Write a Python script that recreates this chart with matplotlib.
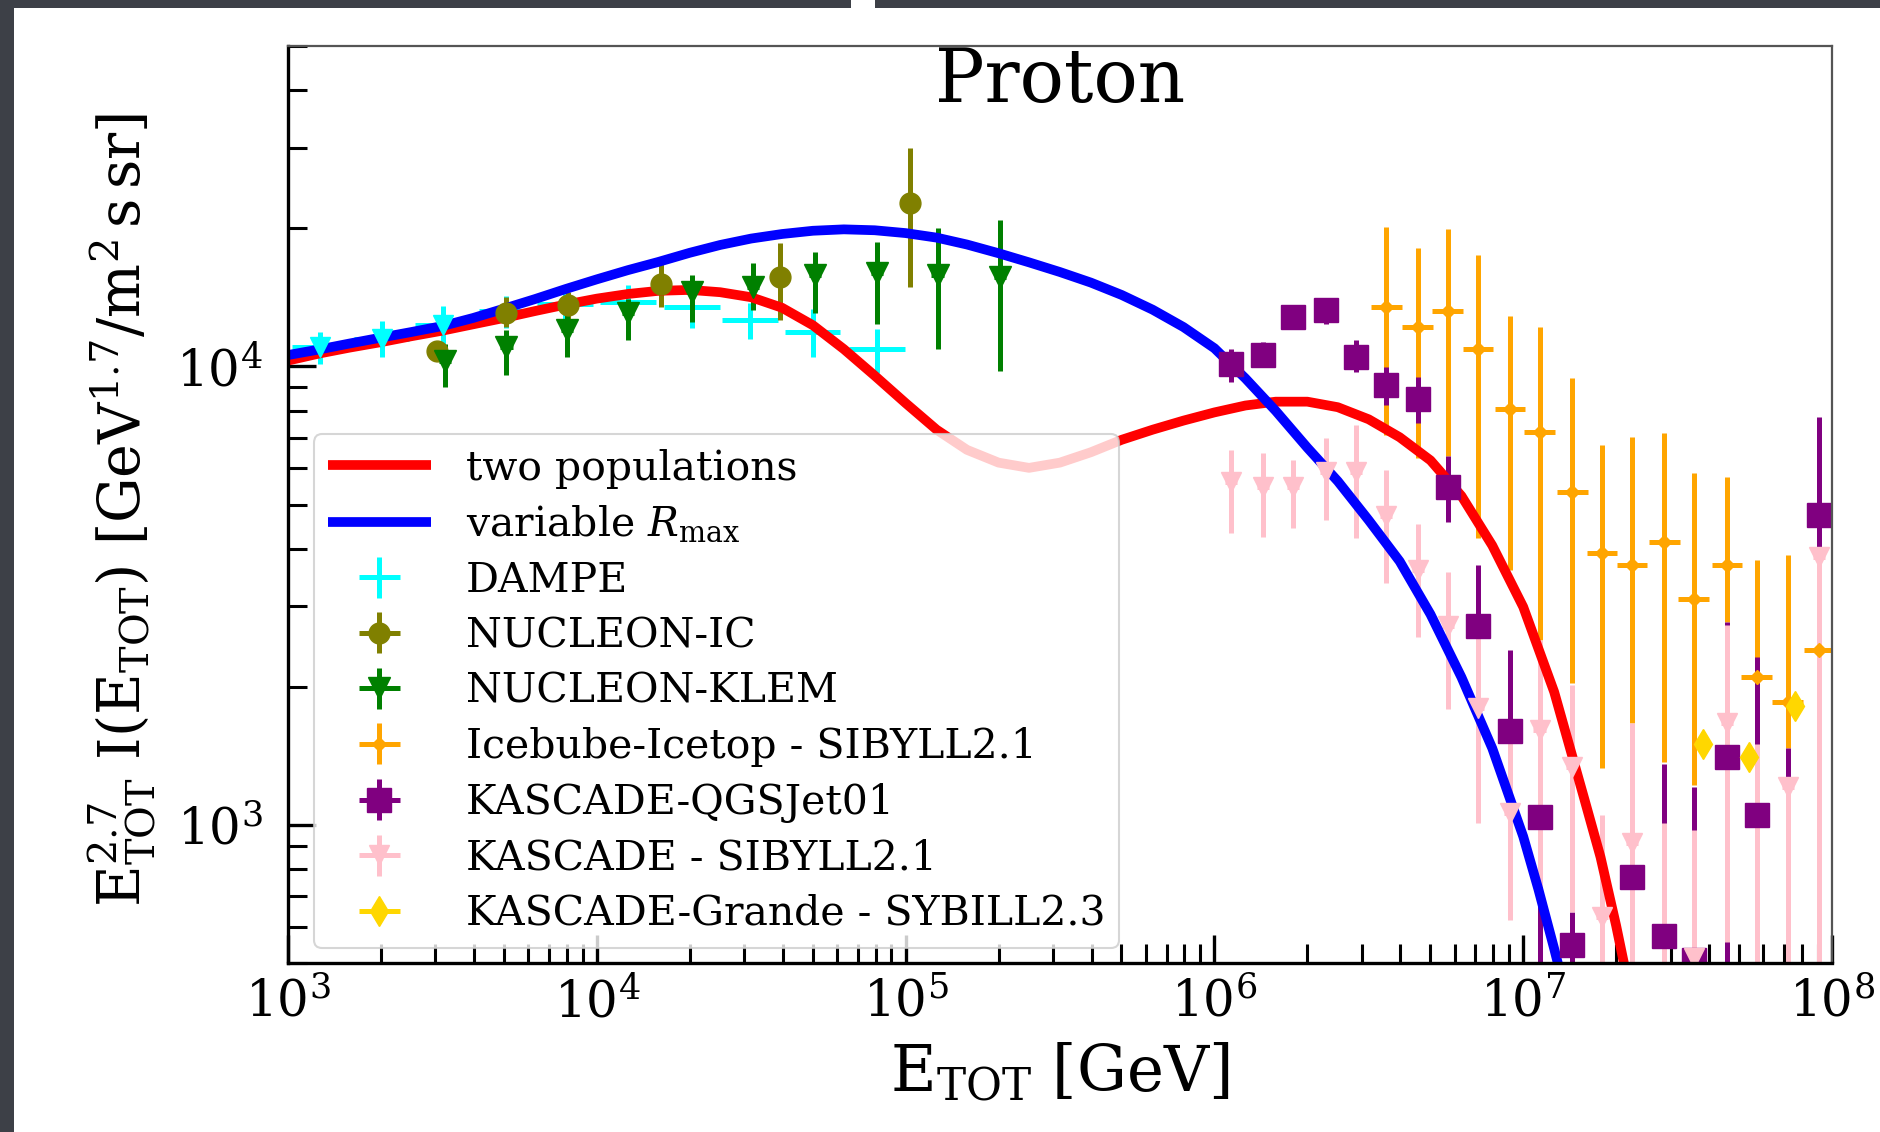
import numpy as np
import matplotlib
matplotlib.use("Agg")
import matplotlib.pyplot as plt
from matplotlib.patches import Rectangle
from matplotlib.ticker import LogLocator, NullFormatter

plt.rcParams['font.family'] = ['DejaVu Serif']
plt.rcParams['mathtext.fontset'] = 'dejavuserif'

# ---------------- model curves ----------------
two_pop_E = [1.0e3, 1.26e3, 1.58e3, 2.0e3, 2.51e3, 3.16e3, 3.98e3, 5.01e3, 6.31e3, 7.94e3,
             1.0e4, 1.26e4, 1.58e4, 2.0e4, 2.51e4, 3.16e4, 3.98e4, 5.01e4, 6.31e4, 7.94e4,
             1.0e5, 1.26e5, 1.58e5, 2.0e5, 2.51e5, 3.16e5, 3.98e5, 5.01e5, 6.31e5, 7.94e5,
             1.0e6, 1.26e6, 1.58e6, 2.0e6, 2.51e6, 3.16e6, 3.98e6, 5.01e6, 6.31e6, 7.94e6,
             1.0e7, 1.26e7, 1.58e7, 1.78e7, 2.0e7, 2.24e7]
two_pop_V = [1.030e4, 1.067e4, 1.099e4, 1.130e4, 1.164e4, 1.197e4, 1.236e4, 1.276e4, 1.321e4, 1.365e4,
             1.406e4, 1.439e4, 1.462e4, 1.469e4, 1.452e4, 1.416e4, 1.343e4, 1.230e4, 1.091e4, 9.55e3,
             8.32e3, 7.28e3, 6.58e3, 6.17e3, 6.01e3, 6.17e3, 6.50e3, 6.92e3, 7.28e3, 7.62e3,
             7.94e3, 8.22e3, 8.38e3, 8.38e3, 8.15e3, 7.67e3, 7.01e3, 6.24e3, 5.22e3, 4.07e3,
             2.99e3, 1.95e3, 1.135e3, 851, 603, 417]

var_R_E = [1.0e3, 1.26e3, 1.58e3, 2.0e3, 2.51e3, 3.16e3, 3.98e3, 5.01e3, 6.31e3, 7.94e3,
           1.0e4, 1.26e4, 1.58e4, 2.0e4, 2.51e4, 3.16e4, 3.98e4, 5.01e4, 6.31e4, 7.94e4,
           1.0e5, 1.26e5, 1.58e5, 2.0e5, 2.51e5, 3.16e5, 3.98e5, 5.01e5, 6.31e5, 7.94e5,
           1.0e6, 1.26e6, 1.58e6, 2.0e6, 2.51e6, 3.16e6, 3.98e6, 5.01e6, 6.31e6, 7.94e6,
           1.0e7, 1.12e7, 1.26e7, 1.41e7]
var_R_V = [1.059e4, 1.089e4, 1.122e4, 1.156e4, 1.189e4, 1.225e4, 1.276e4, 1.337e4, 1.403e4, 1.476e4,
           1.549e4, 1.622e4, 1.690e4, 1.770e4, 1.841e4, 1.901e4, 1.945e4, 1.977e4, 1.991e4, 1.982e4,
           1.954e4, 1.910e4, 1.845e4, 1.766e4, 1.687e4, 1.607e4, 1.524e4, 1.432e4, 1.330e4, 1.219e4,
           1.096e4, 9.42e3, 8.00e3, 6.65e3, 5.62e3, 4.62e3, 3.76e3, 2.88e3, 2.10e3, 1.47e3,
           944, 724, 537, 398]

# ---------------- data sets ----------------
dampe_E = [1.27e3, 2.01e3, 3.18e3, 5.1e3, 7.9e3, 1.26e4, 2.03e4, 3.13e4, 5.0e4, 8.07e4]
dampe_V = [1.10e4, 1.15e4, 1.23e4, 1.32e4, 1.37e4, 1.38e4, 1.35e4, 1.26e4, 1.19e4, 1.09e4]
dampe_relerr = [0.08, 0.09, 0.10, 0.08, 0.09, 0.09, 0.10, 0.09, 0.12, 0.11]
dampe_dlogE = 0.09

nucic_E = [3.03e3, 5.1e3, 8.07e3, 1.62e4, 3.92e4, 1.03e5]
nucic_V = [1.08e4, 1.31e4, 1.36e4, 1.51e4, 1.57e4, 2.27e4]
nucic_lo = [1.04e4, 1.22e4, 1.26e4, 1.35e4, 1.26e4, 1.49e4]
nucic_hi = [1.12e4, 1.42e4, 1.45e4, 1.68e4, 1.86e4, 3.0e4]

klem_E = [3.22e3, 5.1e3, 8.0e3, 1.26e4, 2.03e4, 3.2e4, 5.1e4, 8.07e4, 1.27e5, 2.02e5]
klem_V = [1.03e4, 1.10e4, 1.20e4, 1.31e4, 1.45e4, 1.49e4, 1.58e4, 1.60e4, 1.58e4, 1.57e4]
klem_lo = [9.0e3, 9.6e3, 1.05e4, 1.14e4, 1.25e4, 1.33e4, 1.31e4, 1.24e4, 1.09e4, 9.8e3]
klem_hi = [1.12e4, 1.20e4, 1.31e4, 1.40e4, 1.58e4, 1.68e4, 1.78e4, 1.87e4, 2.0e4, 2.09e4]

ice_E = [3.60e6, 4.56e6, 5.70e6, 7.14e6, 9.06e6, 1.13e7, 1.44e7, 1.80e7, 2.25e7, 2.86e7,
         3.57e7, 4.57e7, 5.71e7, 7.19e7, 9.08e7]
ice_V = [1.35e4, 1.22e4, 1.32e4, 1.09e4, 8.07e3, 7.19e3, 5.32e3, 3.92e3, 3.69e3, 4.14e3,
         3.11e3, 3.69e3, 2.10e3, 1.85e3, 2.41e3]
ice_lo = [7.10e3, 6.31e3, 6.38e3, 4.23e3, 3.60e3, 2.53e3, 2.04e3, 1.33e3, 1.67e3, 1.37e3,
          1.22e3, 2.77e3, 1.9e3, 1.47e3, 2.3e3]
ice_hi = [2.01e4, 1.81e4, 1.99e4, 1.75e4, 1.29e4, 1.22e4, 9.44e3, 6.74e3, 7.02e3, 7.16e3,
          5.86e3, 5.74e3, 3.78e3, 3.88e3, 2.55e3]

qgs_E = [1.13e6, 1.44e6, 1.80e6, 2.30e6, 2.88e6, 3.60e6, 4.56e6, 5.70e6, 7.14e6, 9.06e6,
         1.13e7, 1.44e7, 2.25e7, 2.86e7, 3.57e7, 4.57e7, 5.71e7, 7.19e7, 9.08e7]
qgs_V = [1.01e4, 1.06e4, 1.28e4, 1.33e4, 1.05e4, 9.1e3, 8.5e3, 5.46e3, 2.72e3, 1.60e3,
         1.04e3, 547, 771, 573, 508, 1.41e3, 1.05e3, 420, 4.74e3]
qgs_lo = [9.25e3, 9.97e3, 1.22e4, 1.24e4, 9.73e3, 8.24e3, 7.53e3, 4.58e3, 2.3e3, 1.4e3,
          300, 300, 680, 300, 300, 300, 600, 250, 3.94e3]
qgs_hi = [1.09e4, 1.13e4, 1.36e4, 1.41e4, 1.14e4, 9.97e3, 9.48e3, 6.38e3, 3.69e3, 2.41e3,
          1.3e3, 646, 870, 1.36e3, 1.21e3, 2.77e3, 2.32e3, 1.47e3, 7.76e3]

sib_E = [1.13e6, 1.44e6, 1.80e6, 2.30e6, 2.88e6, 3.60e6, 4.56e6, 5.70e6, 7.14e6, 9.06e6,
         1.13e7, 1.44e7, 1.80e7, 2.25e7, 2.86e7, 3.57e7, 4.57e7, 5.71e7, 7.19e7, 9.08e7]
sib_V = [5.60e3, 5.46e3, 5.46e3, 5.89e3, 5.89e3, 4.72e3, 3.60e3, 2.72e3, 1.80e3, 1.06e3,
         1.61e3, 1.34e3, 630, 914, 420, 513, 1.67e3, 450, 1.21e3, 3.84e3]
sib_lo = [4.33e3, 4.25e3, 4.44e3, 4.63e3, 4.23e3, 3.37e3, 2.57e3, 1.79e3, 1.01e3, 621,
          733, 646, 300, 300, 250, 300, 556, 250, 300, 300]
sib_hi = [6.58e3, 6.47e3, 6.25e3, 6.98e3, 7.45e3, 5.94e3, 4.54e3, 3.56e3, 2.57e3, 1.52e3,
          2.53e3, 2.02e3, 1.05e3, 1.67e3, 1.01e3, 975, 2.73e3, 1.50e3, 1.23e3, 3.9e3]

grande_E = [3.82e7, 5.38e7, 7.59e7]
grande_V = [1.50e3, 1.41e3, 1.82e3]

# ---------------- figure ----------------
W, H = 1880, 1132
fig = plt.figure(figsize=(W / 100, H / 100), dpi=100)
fig.patch.set_facecolor('#3d4047')
fig.patches.append(Rectangle((14 / W, 0), 1 - 14 / W, 1 - 8 / H, transform=fig.transFigure,
                             facecolor='white', edgecolor='none', zorder=-10))
fig.patches.append(Rectangle((851 / W, 1 - 8 / H), 24 / W, 8 / H, transform=fig.transFigure,
                             facecolor='white', edgecolor='none', zorder=-10))

ax = fig.add_axes([288 / W, 1 - 963 / H, 1544 / W, 917 / H])
ax.set_xscale('log')
ax.set_yscale('log')

ax.plot(two_pop_E, two_pop_V, color='#ff0000', lw=7, label='two populations',
        zorder=2.05, solid_capstyle='butt')
ax.plot(var_R_E, var_R_V, color='#0000ff', lw=7, label=r'variable $R_{\rm max}$',
        zorder=2.05, solid_capstyle='butt')


def xerr_of(E, d):
    E = np.asarray(E, float)
    return [E - E * 10 ** (-d), E * 10 ** d - E]


def yerr_of(V, lo, hi):
    V = np.asarray(V, float)
    return [V - np.asarray(lo, float), np.asarray(hi, float) - V]


elw = 3.6
dv = np.asarray(dampe_V)
ax.errorbar(dampe_E, dampe_V, xerr=xerr_of(dampe_E, dampe_dlogE),
            yerr=[dv * np.asarray(dampe_relerr), dv * np.asarray(dampe_relerr)],
            fmt='none', ecolor='#00ffff', elinewidth=elw, capsize=0, label='DAMPE')
ax.plot(dampe_E[:3], dampe_V[:3], 'v', color='#00ffff', ms=14, zorder=2.1)

ax.errorbar(nucic_E, nucic_V, xerr=xerr_of(nucic_E, 0.02),
            yerr=yerr_of(nucic_V, nucic_lo, nucic_hi),
            fmt='o', color='#808000', ms=15, elinewidth=elw, capsize=0, label='NUCLEON-IC')
ax.errorbar(klem_E, klem_V, xerr=xerr_of(klem_E, 0.02),
            yerr=yerr_of(klem_V, klem_lo, klem_hi),
            fmt='v', color='#008000', ms=16, elinewidth=elw, capsize=0, label='NUCLEON-KLEM')
ax.errorbar(ice_E, ice_V, xerr=xerr_of(ice_E, 0.05),
            yerr=yerr_of(ice_V, ice_lo, ice_hi),
            fmt='D', color='#ffa500', ms=7, elinewidth=elw, capsize=0,
            label='Icebube-Icetop - SIBYLL2.1')
ax.errorbar(qgs_E, qgs_V, xerr=xerr_of(qgs_E, 0.02),
            yerr=yerr_of(qgs_V, qgs_lo, qgs_hi),
            fmt='s', color='#800080', ms=17, elinewidth=elw, capsize=0,
            label='KASCADE-QGSJet01')
ax.errorbar(sib_E, sib_V, xerr=xerr_of(sib_E, 0.02),
            yerr=yerr_of(sib_V, sib_lo, sib_hi),
            fmt='v', color='#ffc0cb', ms=15, elinewidth=elw, capsize=0,
            label='KASCADE - SIBYLL2.1')
ax.errorbar(grande_E, grande_V, xerr=xerr_of(grande_E, 0.01), yerr=None,
            fmt='d', color='#ffd700', ms=15, elinewidth=elw, capsize=0,
            label='KASCADE-Grande - SYBILL2.3')

ax.set_xlim(1e3, 1e8)
ax.set_ylim(500, 5e4)

ax.xaxis.set_major_locator(LogLocator(base=10, numticks=10))
ax.xaxis.set_minor_locator(LogLocator(base=10, subs=np.arange(2, 10), numticks=100))
ax.yaxis.set_minor_locator(LogLocator(base=10, subs=np.arange(2, 10), numticks=100))
ax.xaxis.set_minor_formatter(NullFormatter())
ax.yaxis.set_minor_formatter(NullFormatter())

ax.tick_params(which='both', direction='in', top=False, right=False, labelsize=36)
ax.tick_params(which='major', length=20, width=2.4)
ax.tick_params(which='minor', length=14, width=2.2)
ax.tick_params(axis='x', which='major', pad=11)
ax.tick_params(axis='y', which='major', pad=18)

for s in ('left', 'bottom'):
    ax.spines[s].set_color('black')
    ax.spines[s].set_linewidth(2.4)
for s in ('top', 'right'):
    ax.spines[s].set_color('#555555')
    ax.spines[s].set_linewidth(1.6)

ax.text(0.5, 0.939, 'Proton', transform=ax.transAxes, ha='center', va='baseline',
        fontsize=53)

ax.set_xlabel(r'$\mathrm{E_{TOT}}\ [\mathrm{GeV}]$', fontsize=45, va='center')
ax.xaxis.set_label_coords(0.5, -0.12)
ax.set_ylabel(r'$\mathrm{E^{2.7}_{TOT}\ I(E_{TOT})\ [GeV^{1.7}/m^{2}\,s\,sr]}$',
              fontsize=41, va='center')
ax.yaxis.set_label_coords(-0.1075, 0.494)

leg = ax.legend(loc='lower left', bbox_to_anchor=(0.0168, 0.016), borderaxespad=0,
                fontsize=29.5, handlelength=2.5, handletextpad=0.85, labelspacing=0.38,
                borderpad=0.35, frameon=True, fancybox=True, framealpha=0.8,
                edgecolor='#cccccc')
leg.get_frame().set_linewidth(1.5)

fig.savefig('out.png', dpi=100, facecolor=fig.get_facecolor())
